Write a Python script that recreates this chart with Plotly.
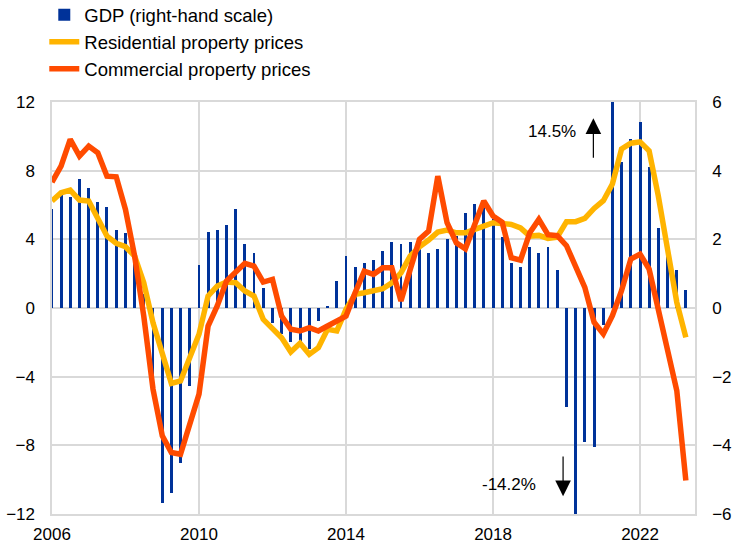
import pandas as pd
import plotly.graph_objects as go

# Quarters 2006Q1 .. 2023Q2
quarters = pd.period_range("2006Q1", "2023Q2", freq="Q").start_time

gdp = [2.87, 3.28, 3.23, 3.76,
       3.49, 3.08, 2.95, 2.27,
       2.19, 1.5, 0.4, -2.2,
       -5.67, -5.4, -4.52, -2.27,
       1.24, 2.21, 2.27, 2.41,
       2.87, 1.86, 1.59, 0.58,
       -0.43, -0.76, -0.99, -1.0,
       -1.2, -0.38, 0.05, 0.78,
       1.51, 1.18, 1.32, 1.40,
       1.65, 1.93, 1.86, 1.93,
       1.76, 1.59, 1.73, 2.0,
       2.1, 2.76, 3.02, 3.05,
       2.6, 2.06, 1.32, 1.18,
       1.78, 1.59, 1.78, 1.12,
       -2.88, -14.2, -3.9, -4.05,
       -0.5, 14.5, 4.25, 4.93,
       5.41, 4.10, 2.33, 1.8,
       1.12, 0.51]

residential = [6.23, 6.71, 6.87, 6.29,
               6.23, 5.16, 4.19, 3.77,
               3.57, 3.03, 1.47, -0.86,
               -2.79, -4.39, -4.25, -2.89,
               -1.53, 0.7, 1.28, 1.51,
               1.47, 0.99, 0.7, -0.66,
               -1.15, -1.73, -2.56, -2.05,
               -2.7, -2.31, -1.24, -1.34,
               -0.08, 0.8, 0.89, 0.99,
               1.12, 1.47, 2.05, 3.03,
               3.56, 3.96, 4.42, 4.54,
               4.38, 4.38, 4.54, 4.77,
               4.97, 4.9, 4.87, 4.67,
               4.19, 4.23, 4.05, 4.12,
               5.03, 5.03, 5.22, 5.80,
               6.25, 7.22, 9.26, 9.6,
               9.68, 9.16, 6.54, 3.43,
               0.33, -1.71]

commercial = [7.33, 8.27, 9.82, 8.85,
              9.43, 9.04, 7.68, 7.64,
              5.74, 3.03, -0.47, -4.73,
              -7.45, -8.42, -8.52, -6.77,
              -5.02, -1.05, 0.12, 1.57,
              2.05, 2.6, 2.44, 1.51,
              1.67, -0.47, -1.24, -1.34,
              -1.15, -1.34, -1.05, -0.76,
              -0.47, 0.89, 2.15, 1.96,
              2.35, 2.35, 0.41, 2.25,
              4.0, 4.48, 7.68, 4.97,
              3.80, 3.45, 4.77, 6.23,
              5.36, 5.0, 2.93, 2.79,
              4.38, 5.16, 4.27, 4.21,
              3.63, 2.47, 1.2, -0.83,
              -1.51, -0.45, 1.01, 2.85,
              3.14, 2.27, -0.06, -2.39,
              -4.81, -10.05]

left_ticks = [-12, -8, -4, 0, 4, 8, 12]
right_ticks = [-6, -4, -2, 0, 2, 4, 6]
x_ticks = ["2006-01-01", "2010-01-01", "2014-01-01", "2018-01-01", "2022-01-01"]
x_tick_labels = ["2006", "2010", "2014", "2018", "2022"]

BLUE = "#003299"
YELLOW = "#FFB400"
ORANGE = "#FF4B00"
GRID = "#d9d9d9"
FONT = "Liberation Sans, Arial, sans-serif"

fig = go.Figure()
fig.add_trace(go.Bar(x=quarters, y=gdp, name="GDP (right-hand scale)",
                     marker=dict(color=BLUE, line=dict(width=0)),
                     width=29 * 86400000, yaxis="y"))
fig.add_trace(go.Scatter(x=quarters, y=residential, name="Residential property prices",
                         mode="lines", line=dict(color=YELLOW, width=5.5), yaxis="y2"))
fig.add_trace(go.Scatter(x=quarters, y=commercial, name="Commercial property prices",
                         mode="lines", line=dict(color=ORANGE, width=5.5), yaxis="y2"))

fig.update_layout(
    width=734, height=545,
    margin=dict(l=52, r=39, t=102, b=31, autoexpand=False),
    paper_bgcolor="white", plot_bgcolor="white",
    font=dict(family=FONT, size=17, color="#000000"),
    showlegend=True,
    legend=dict(x=-0.012, y=1.257, xanchor="left", yanchor="top",
                font=dict(size=18.5), itemwidth=30, tracegroupgap=0,
                bgcolor="rgba(0,0,0,0)"),
    bargap=0,
    xaxis=dict(type="date", range=["2006-01-01", "2023-07-01"],
               tickvals=x_ticks, ticktext=x_tick_labels,
               showgrid=True, gridcolor=GRID, gridwidth=1.5,
               showline=True, mirror=True, linecolor=GRID, linewidth=1.5,
               ticks="", zeroline=False, ticklabelstandoff=4),
    yaxis=dict(side="right", range=[-6, 6], tickvals=right_ticks,
               showgrid=True, gridcolor=GRID, gridwidth=1.5,
               showline=True, mirror=True, linecolor=GRID, linewidth=1.5,
               zeroline=False, ticks="", ticklabelstandoff=12),
    yaxis2=dict(side="left", overlaying="y", range=[-12, 12], tickvals=left_ticks,
                showgrid=False, zeroline=False, ticks="", ticklabelstandoff=16),
)

# Out-of-range value annotations
fig.add_annotation(x="2020-04-20", y=10.29, xref="x", yref="y2", text="14.5%",
                   showarrow=False, xanchor="right", yanchor="middle",
                   font=dict(size=17))
fig.add_annotation(x="2020-09-24", y=11.05, ax="2020-09-24", ay=8.67,
                   xref="x", yref="y2", axref="x", ayref="y2", text="",
                   showarrow=True, arrowhead=2, arrowsize=2.6, arrowwidth=1.2,
                   arrowcolor="#000000")
fig.add_annotation(x="2019-03-25", y=-10.26, xref="x", yref="y2", text="-14.2%",
                   showarrow=False, xanchor="right", yanchor="middle",
                   font=dict(size=17))
fig.add_annotation(x="2019-11-28", y=-10.96, ax="2019-11-28", ay=-8.56,
                   xref="x", yref="y2", axref="x", ayref="y2", text="",
                   showarrow=True, arrowhead=2, arrowsize=2.6, arrowwidth=1.2,
                   arrowcolor="#000000")

fig.write_html("out.html",
               config={"displayModeBar": False},
               post_script="document.body.style.margin='0px';"
                           "document.body.style.overflow='hidden';")
